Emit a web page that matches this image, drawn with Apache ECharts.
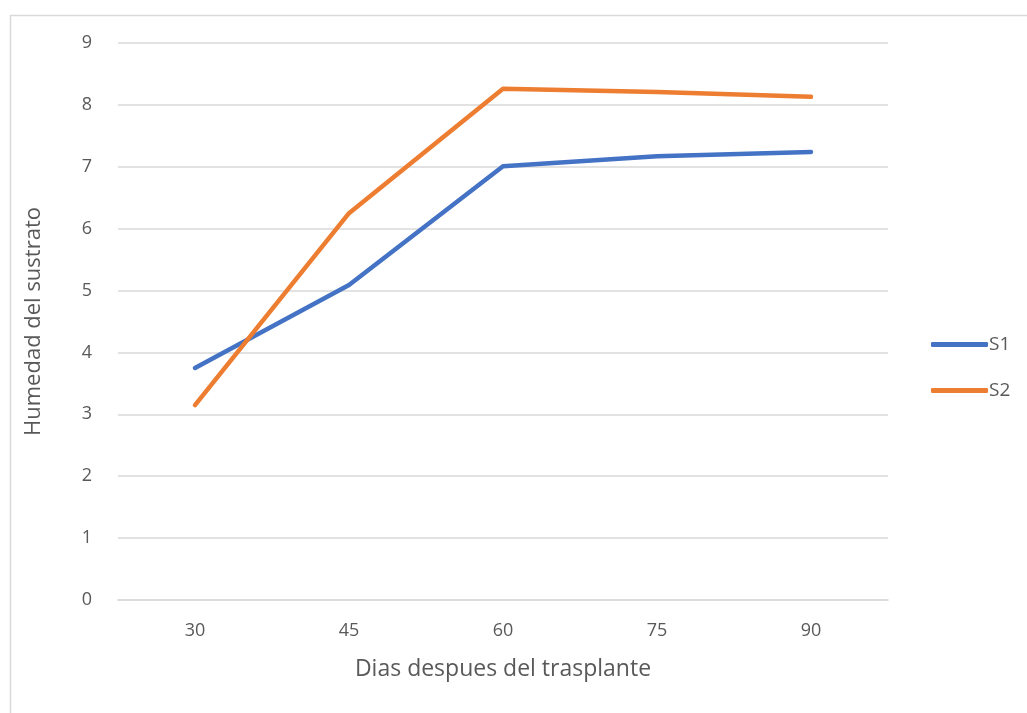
<!DOCTYPE html>
<html>
<head>
<meta charset="utf-8">
<script src="https://cdn.jsdelivr.net/npm/echarts@6/dist/echarts.min.js"></script>
<style>html,body{margin:0;padding:0;background:#fff;}#c{width:1027px;height:713px;}</style>
</head>
<body>
<div id="c"></div>
<script>
const categories = ['30', '45', '60', '75', '90'];
const s1 = [3.75, 5.09, 7.01, 7.17, 7.24];
const s2 = [3.15, 6.25, 8.26, 8.21, 8.13];
const seriesNames = ['S1', 'S2'];
const colors = ['#4472C4', '#ED7D31'];
const fontFam = '"Open Sans", "Liberation Sans", sans-serif';

const chart = echarts.init(document.getElementById('c'), null, {renderer: 'canvas'});
chart.setOption({
  animation: false,
  backgroundColor: '#fff',
  color: colors,
  textStyle: {fontFamily: fontFam},
  graphic: [{
    type: 'rect', left: 8, top: 13, silent: true,
    shape: {width: 1040, height: 720},
    style: {fill: 'none', stroke: '#d9d9d9', lineWidth: 1.5}
  }],
  grid: {left: 118, right: 139, top: 43, bottom: 113, containLabel: false},
  legend: {
    orient: 'vertical', left: 926, top: 330, itemGap: 27,
    itemWidth: 57, itemHeight: 5,
    icon: 'roundRect',
    textStyle: {fontSize: 19, color: '#595959', fontFamily: fontFam, padding: [0, 0, 0, -4]},
    data: seriesNames.map((n, i) => ({name: n, itemStyle: {color: colors[i]}}))
  },
  xAxis: {
    type: 'category', data: categories, boundaryGap: true,
    name: 'Dias despues del trasplante', nameLocation: 'middle', nameGap: 58,
    nameTextStyle: {fontSize: 23, color: '#595959'},
    axisLine: {show: true, lineStyle: {color: '#d9d9d9', width: 1.5}},
    axisTick: {show: false},
    axisLabel: {fontSize: 18, color: '#595959', margin: 22}
  },
  yAxis: {
    type: 'value', min: 0, max: 9, interval: 1,
    name: 'Humedad del sustrato', nameLocation: 'middle', nameGap: 73,
    nameTextStyle: {fontSize: 22, color: '#595959'},
    axisLine: {show: false}, axisTick: {show: false},
    axisLabel: {fontSize: 18, color: '#595959', margin: 26},
    splitLine: {lineStyle: {color: '#d9d9d9', width: 1.5}}
  },
  series: [
    {name: seriesNames[0], type: 'line', data: s1, symbol: 'none',
     lineStyle: {width: 4.5, color: colors[0], cap: 'round', join: 'round'}},
    {name: seriesNames[1], type: 'line', data: s2, symbol: 'none',
     lineStyle: {width: 4.5, color: colors[1], cap: 'round', join: 'round'}}
  ]
});
</script>
</body>
</html>
